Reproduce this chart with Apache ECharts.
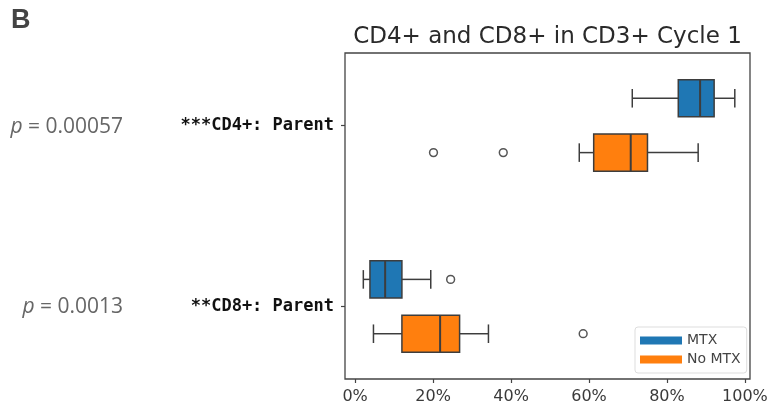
<!DOCTYPE html>
<html>
<head>
<meta charset="utf-8">
<script src="https://cdn.jsdelivr.net/npm/echarts@6/dist/echarts.min.js"></script>
<style>
  html, body { margin: 0; padding: 0; background: #ffffff; }
  #chart { width: 771px; height: 412px; }
</style>
</head>
<body>
<div id="chart"></div>
<script>
// Row labels (top to bottom) and their p-values
const categories = ['***CD4+: Parent', '**CD8+: Parent'];
const pValues = ['0.00057', '0.0013'];

// Group names
const groups = ['MTX', 'No MTX'];

// Five-number summaries per row: [whisker low, Q1, median, Q3, whisker high] in %
const mtxStats = [
  [71.1, 82.9, 88.5, 92.1, 97.4],
  [2.1, 3.8, 7.7, 12.0, 19.4]
];
const noMtxStats = [
  [57.5, 61.2, 70.7, 75.0, 88.0],
  [4.7, 12.0, 21.8, 26.8, 34.2]
];

// Outliers per row, in %
const mtxOutliers = [[], [24.5]];
const noMtxOutliers = [[20.1, 38.0], [58.5]];

// x-axis ticks in %
const xTicks = [0, 20, 40, 60, 80, 100];

const COLORS = ['#1f77b4', '#ff7f0e'];
const EDGE = '#3d3d3d';
const DODGE = 0.15;       // vertical offset of each group from the row centre (row units)
const BOX_HEIGHT = 0.205; // box thickness (row units)

function boxRenderer(offset, outliers, color) {
  return function (params, api) {
    const cat = api.value(0);
    const yc = cat + offset;
    const lo = api.coord([api.value(1), yc]);
    const q1 = api.coord([api.value(2), yc]);
    const md = api.coord([api.value(3), yc]);
    const q3 = api.coord([api.value(4), yc]);
    const hi = api.coord([api.value(5), yc]);
    const h = api.size([0, BOX_HEIGHT])[1];
    const cap = h / 4;
    const y = lo[1];
    const lineStyle = { stroke: EDGE, lineWidth: 1.5, fill: null };
    const children = [
      { type: 'line', shape: { x1: lo[0], y1: y, x2: q1[0], y2: y }, style: lineStyle },
      { type: 'line', shape: { x1: q3[0], y1: y, x2: hi[0], y2: y }, style: lineStyle },
      { type: 'line', shape: { x1: lo[0], y1: y - cap, x2: lo[0], y2: y + cap }, style: lineStyle },
      { type: 'line', shape: { x1: hi[0], y1: y - cap, x2: hi[0], y2: y + cap }, style: lineStyle },
      { type: 'rect', shape: { x: q1[0], y: y - h / 2, width: q3[0] - q1[0], height: h },
        style: { fill: color, stroke: EDGE, lineWidth: 1.5 } },
      { type: 'line', shape: { x1: md[0], y1: y - h / 2, x2: md[0], y2: y + h / 2 },
        style: { stroke: EDGE, lineWidth: 2 } }
    ];
    (outliers[cat] || []).forEach(function (v) {
      const p = api.coord([v, yc]);
      children.push({ type: 'circle', shape: { cx: p[0], cy: p[1], r: 3.9 },
        style: { fill: '#ffffff', stroke: '#555555', lineWidth: 1.5 } });
    });
    return { type: 'group', children: children };
  };
}

function seriesData(stats) {
  return stats.map(function (s, i) { return [i].concat(s); });
}

const chart = echarts.init(document.getElementById('chart'), null, { renderer: 'canvas' });

const gridLeft = 345, gridTop = 53, gridRight = 21, gridBottom = 33;
const plotCenterX = gridLeft + (771 - gridLeft - gridRight) / 2;

const pStyle = {
  align: 'right', verticalAlign: 'middle',
  fontFamily: 'Open Sans', fontSize: 21, fill: '#666666',
  rich: { i: { fontStyle: 'italic', fontFamily: 'Open Sans', fontSize: 21, fill: '#666666' } }
};

chart.setOption({
  animation: false,
  backgroundColor: '#ffffff',
  grid: {
    left: gridLeft, top: gridTop, right: gridRight, bottom: gridBottom,
    show: true, borderColor: '#444444', borderWidth: 1.3, backgroundColor: 'transparent'
  },
  xAxis: {
    type: 'value',
    position: 'bottom',
    min: -2.6,
    max: 101.3,
    axisLine: { show: false, onZero: false },
    splitLine: { show: false },
    axisTick: { show: true, length: 4, lineStyle: { color: '#444444', width: 1.2 }, customValues: xTicks },
    axisLabel: {
      customValues: xTicks,
      formatter: function (v) { return v + '%'; },
      margin: 10,
      fontFamily: 'DejaVu Sans', fontSize: 16, color: '#3a3a3a'
    }
  },
  yAxis: {
    type: 'value',
    position: 'left',
    inverse: true,
    min: -0.4,
    max: 1.4,
    axisLine: { show: false, onZero: false },
    splitLine: { show: false },
    axisTick: { show: true, length: 4, lineStyle: { color: '#444444', width: 1.2 }, customValues: [0, 1] },
    axisLabel: {
      customValues: [0, 1],
      formatter: function (v) { return categories[Math.round(v)]; },
      margin: 11,
      fontFamily: 'DejaVu Sans Mono', fontWeight: 'bold', fontSize: 17, color: '#111111'
    }
  },
  legend: {
    data: [
      { name: groups[0], itemStyle: { color: COLORS[0], borderWidth: 0 } },
      { name: groups[1], itemStyle: { color: COLORS[1], borderWidth: 0 } }
    ],
    orient: 'vertical',
    left: 635,
    top: 327,
    icon: 'rect',
    itemWidth: 42,
    itemHeight: 8,
    itemGap: 4,
    padding: [6, 6, 6, 5],
    borderColor: '#dddddd',
    borderWidth: 1,
    borderRadius: 3,
    backgroundColor: '#ffffff',
    textStyle: { fontFamily: 'DejaVu Sans', fontSize: 14, color: '#444444', lineHeight: 15 }
  },
  graphic: [
    { type: 'text', left: 11, top: 7,
      style: { text: 'B', fontFamily: 'Liberation Sans', fontWeight: 'bold', fontSize: 27, fill: '#444444' } },
    { type: 'text', x: plotCenterX, y: 37,
      style: { text: 'CD4+ and CD8+ in CD3+ Cycle 1', fontFamily: 'DejaVu Sans', fontSize: 23,
               fill: '#2a2a2a', align: 'center', verticalAlign: 'middle' } },
    { type: 'text', x: 123, y: 127,
      style: Object.assign({ text: '{i|p} = ' + pValues[0] }, pStyle) },
    { type: 'text', x: 123, y: 307,
      style: Object.assign({ text: '{i|p} = ' + pValues[1] }, pStyle) }
  ],
  series: [
    {
      name: groups[0],
      type: 'custom',
      itemStyle: { color: COLORS[0] },
      encode: { x: [1, 2, 3, 4, 5], y: 0 },
      renderItem: boxRenderer(-DODGE, mtxOutliers, COLORS[0]),
      data: seriesData(mtxStats)
    },
    {
      name: groups[1],
      type: 'custom',
      itemStyle: { color: COLORS[1] },
      encode: { x: [1, 2, 3, 4, 5], y: 0 },
      renderItem: boxRenderer(DODGE, noMtxOutliers, COLORS[1]),
      data: seriesData(noMtxStats)
    }
  ]
});
</script>
</body>
</html>
